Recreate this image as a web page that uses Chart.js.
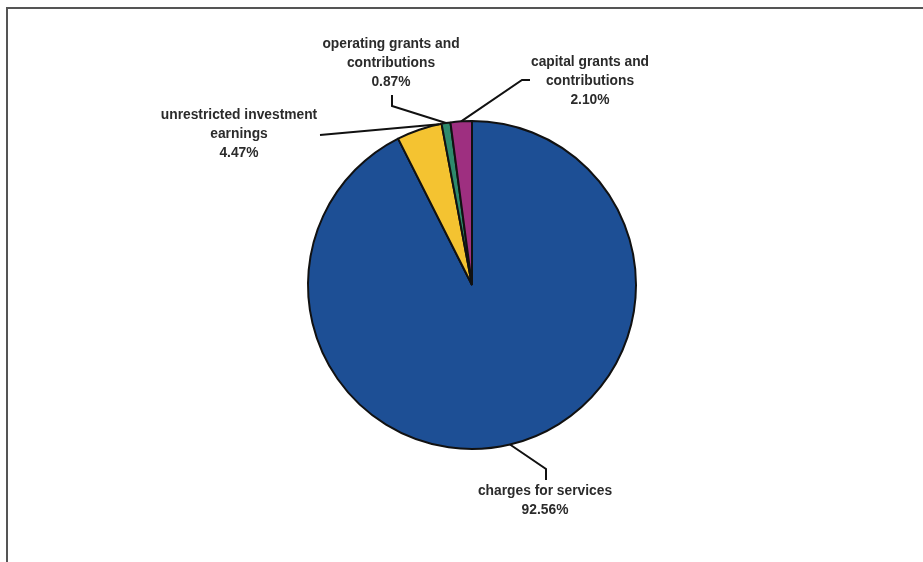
<!DOCTYPE html>
<html>
<head>
<meta charset="utf-8">
<script src="https://cdn.jsdelivr.net/npm/chart.js@4"></script>
<style>
  html, body { margin: 0; padding: 0; background: #fff; }
  #wrap { position: relative; width: 923px; height: 562px; overflow: hidden; }
  #frame {
    position: absolute; left: 6px; top: 7px; width: 940px; height: 600px;
    border-left: 2px solid #555; border-top: 2px solid #555;
  }
  canvas { position: absolute; left: 0; top: 0; }
</style>
</head>
<body>
<div id="wrap">
  <div id="frame"></div>
  <canvas id="myChart" width="923" height="562"></canvas>
</div>
<script>
const LABELS = [
    ['charges for services'],
    ['unrestricted investment', 'earnings'],
    ['operating grants and', 'contributions'],
    ['capital grants and', 'contributions']
];
const VALUES = [92.56, 4.47, 0.87, 2.10];
const COLORS = ['#1d4f95', '#f4c331', '#2e8a6c', '#9e2f80'];

// where each label sits, relative to the pie centre (px)
// anchor = fraction along the slice where the leader line touches the edge
const LEADERS = [
    { anchor: 0.5,  elbow: [74, 184],   end: [74, 195],    text: [73, 206] },
    { anchor: 0.95, elbow: [-152, -150], end: [-152, -150], text: [-233, -170] },
    { anchor: 0.5,  elbow: [-80, -179], end: [-80, -190],  text: [-81, -241] },
    { anchor: 0.5,  elbow: [50, -205],  end: [58, -205],   text: [118, -223] }
];

const LINE_HEIGHT = 19;

const leaderPlugin = {
    id: 'leaders',
    afterDraw(chart) {
        const ctx = chart.ctx;
        const meta = chart.getDatasetMeta(0);
        ctx.save();
        meta.data.forEach((arc, i) => {
            const cx = arc.x, cy = arc.y;
            const L = LEADERS[i];
            const a = arc.startAngle + (arc.endAngle - arc.startAngle) * L.anchor;
            const sx = cx + Math.cos(a) * arc.outerRadius;
            const sy = cy + Math.sin(a) * arc.outerRadius;

            ctx.strokeStyle = '#111';
            ctx.lineWidth = 2;
            ctx.beginPath();
            ctx.moveTo(sx, sy);
            ctx.lineTo(cx + L.elbow[0], cy + L.elbow[1]);
            ctx.lineTo(cx + L.end[0], cy + L.end[1]);
            ctx.stroke();

            ctx.fillStyle = '#2b2b2b';
            ctx.font = 'bold 13.8px "Liberation Sans", Arial, sans-serif';
            ctx.textAlign = 'center';
            ctx.textBaseline = 'middle';
            const lines = LABELS[i].concat([VALUES[i].toFixed(2) + '%']);
            lines.forEach((t, k) => {
                ctx.fillText(t, cx + L.text[0], cy + L.text[1] + k * LINE_HEIGHT);
            });
        });
        ctx.restore();
    }
};

chart = new Chart(document.getElementById('myChart'), {
    type: 'pie',
    data: {
        labels: LABELS.map(l => l.join(' ')),
        datasets: [{
            data: VALUES,
            backgroundColor: COLORS,
            borderColor: '#111',
            borderWidth: 2
        }]
    },
    options: {
        responsive: false,
        animation: false,
        layout: {
            padding: { left: 307, right: 286, top: 120, bottom: 112 }
        },
        plugins: {
            legend: { display: false },
            tooltip: { enabled: false }
        }
    },
    plugins: [leaderPlugin]
});
</script>
</body>
</html>
